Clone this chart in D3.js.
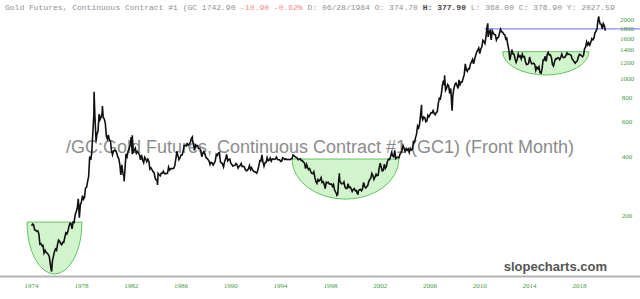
<!DOCTYPE html>
<html>
<head>
<meta charset="utf-8">
<script src="https://cdn.jsdelivr.net/npm/d3@7"></script>
<style>
  html, body { margin: 0; padding: 0; background: #fff; }
  svg { display: block; }
  .hdr { font-family: "Liberation Mono", "DejaVu Sans Mono", monospace; font-size: 8px; fill: #909090; }
  .tick-label { font-family: "Liberation Serif", serif; font-size: 7px; fill: #3f9a3f; }
</style>
</head>
<body>
<svg id="chart" width="640" height="299"></svg>
<script>
// monthly closes, one row per year
const years = [1975, 1976, 1977, 1978, 1979, 1980, 1981, 1982, 1983, 1984, 1985, 1986,
  1987, 1988, 1989, 1990, 1991, 1992, 1993, 1994, 1995, 1996, 1997, 1998, 1999, 2000,
  2001, 2002, 2003, 2004, 2005, 2006, 2007, 2008, 2009, 2010, 2011, 2012, 2013, 2014,
  2015, 2016, 2017, 2018, 2019, 2020, 2021];
const closes = [
  [176, 180, 178, 168, 167, 165, 166, 160, 142, 143, 139, 140],
  [128, 132, 129, 128, 126, 123, 113, 104, 116, 123, 130, 134],
  [132, 142, 149, 147, 143, 141, 145, 145, 154, 162, 160, 165],
  [175, 182, 181, 170, 184, 183, 200, 208, 217, 242, 194, 226],
  [233, 251, 241, 246, 274, 277, 296, 315, 397, 382, 415, 524],
  [653, 637, 494, 518, 535, 653, 614, 631, 666, 629, 619, 589],
  [506, 489, 513, 482, 479, 426, 406, 425, 428, 427, 414, 397],
  [387, 362, 320, 361, 326, 315, 342, 411, 397, 423, 436, 456],
  [499, 408, 414, 429, 438, 413, 422, 414, 405, 382, 405, 382],
  [370, 394, 386, 374, 385, 376, 343, 348, 341, 333, 330, 309],
  [302, 299, 326, 321, 317, 327, 327, 334, 325, 326, 325, 327],
  [351, 339, 344, 345, 345, 346, 357, 385, 423, 402, 383, 391],
  [405, 405, 420, 452, 452, 450, 462, 453, 460, 469, 492, 484],
  [459, 428, 455, 450, 452, 437, 438, 428, 396, 411, 421, 410],
  [394, 389, 384, 378, 362, 371, 369, 360, 368, 377, 408, 402],
  [414, 417, 374, 369, 365, 352, 373, 387, 408, 378, 384, 386],
  [367, 362, 355, 358, 358, 366, 362, 347, 354, 358, 366, 353],
  [354, 352, 341, 336, 338, 344, 357, 341, 349, 339, 334, 333],
  [330, 327, 338, 355, 379, 377, 405, 373, 355, 370, 371, 392],
  [378, 381, 390, 377, 387, 386, 384, 387, 395, 384, 383, 383],
  [375, 377, 391, 389, 384, 387, 383, 384, 384, 383, 387, 387],
  [405, 401, 397, 393, 391, 383, 385, 387, 379, 379, 372, 369],
  [345, 362, 350, 341, 345, 334, 326, 325, 332, 311, 297, 290],
  [303, 298, 301, 310, 293, 296, 288, 273, 294, 292, 294, 288],
  [287, 288, 280, 286, 269, 262, 256, 254, 299, 300, 292, 288],
  [289, 295, 278, 273, 273, 289, 276, 278, 272, 264, 270, 273],
  [266, 267, 257, 265, 269, 270, 266, 273, 293, 280, 275, 279],
  [283, 297, 303, 309, 326, 318, 304, 312, 323, 317, 319, 347],
  [368, 350, 336, 338, 363, 346, 354, 375, 385, 384, 398, 416],
  [400, 396, 427, 388, 393, 395, 391, 408, 415, 428, 452, 438],
  [422, 436, 428, 435, 417, 437, 429, 433, 474, 470, 495, 517],
  [569, 557, 582, 654, 643, 613, 632, 627, 599, 604, 646, 635],
  [651, 665, 663, 682, 660, 650, 666, 672, 742, 789, 783, 834],
  [923, 971, 917, 865, 886, 926, 912, 833, 884, 719, 816, 882],
  [928, 942, 916, 884, 979, 926, 954, 955, 1001, 1040, 1182, 1096],
  [1081, 1117, 1113, 1180, 1207, 1245, 1181, 1246, 1307, 1357, 1386, 1421],
  [1333, 1411, 1439, 1556, 1536, 1500, 1628, 1825, 1620, 1722, 1746, 1566],
  [1740, 1697, 1668, 1664, 1561, 1604, 1615, 1692, 1773, 1720, 1714, 1675],
  [1664, 1578, 1596, 1476, 1392, 1234, 1312, 1396, 1326, 1323, 1250, 1202],
  [1244, 1326, 1284, 1295, 1250, 1321, 1281, 1286, 1210, 1172, 1175, 1184],
  [1279, 1213, 1183, 1184, 1190, 1172, 1095, 1135, 1115, 1142, 1065, 1061],
  [1116, 1236, 1233, 1290, 1215, 1321, 1350, 1309, 1313, 1272, 1174, 1152],
  [1210, 1253, 1249, 1268, 1268, 1242, 1268, 1322, 1280, 1270, 1275, 1303],
  [1343, 1318, 1325, 1315, 1305, 1251, 1233, 1206, 1191, 1214, 1222, 1282],
  [1321, 1316, 1298, 1283, 1305, 1413, 1437, 1529, 1472, 1513, 1472, 1523],
  [1589, 1566, 1596, 1702, 1730, 1781, 1986, 1978, 1888, 1880, 1780, 1895],
  [1850, 1743]
];

// intra-month highs and lows that the monthly closes miss
const spikeDates = ["1976-08-25", "1980-01-21", "1980-03-18", "1980-09-22", "1982-06-21",
  "1983-02-15", "1985-02-25", "1987-12-14", "1999-07-20", "1999-10-05", "2001-04-02",
  "2006-05-12", "2008-03-17", "2008-10-24", "2011-09-06", "2015-12-17", "2020-08-06"];
const spikeValues = [103, 850, 474, 720, 297, 510, 285, 500, 252, 326, 256,
  730, 1033, 681, 1900, 1050, 2060];

// rounded-bottom "cup" bases drawn in green
const cupStart = ["1974-09-01", "1995-12-15", "2012-11-15"];
const cupEnd = ["1979-02-01", "2004-07-15", "2019-10-20"];
const cupTop = [184, 386, 1362];
const cupBottom = [100, 241, 1036];

const resistanceFrom = "2011-06-01";
const resistanceLevel = 1780;

const yTicks = [200, 400, 600, 800, 1000, 1200, 1400, 1600, 1800, 2000];
const xTickYears = [1974, 1978, 1982, 1986, 1990, 1994, 1998, 2002, 2006, 2010, 2014, 2018];

const parse = d3.timeParse("%Y-%m-%d");

const series = [];
years.forEach((yr, i) => {
  closes[i].forEach((v, m) => series.push({ date: new Date(yr, m, 15), value: v }));
});
spikeDates.forEach((d, i) => series.push({ date: parse(d), value: spikeValues[i] }));
series.sort((a, b) => a.date - b.date);

const svg = d3.select("#chart");
const width = 640;

const x = d3.scaleTime()
  .domain([new Date(1974, 0, 1), new Date(2022, 0, 1)])
  .range([18.7, 616.3]);
const y = d3.scaleLog()
  .domain([100, 2000])
  .range([274, 19]);

// cups
const cups = cupStart.map((s, i) => ({
  x0: x(parse(s)), x1: x(parse(cupEnd[i])),
  yTop: y(cupTop[i]), yBot: y(cupBottom[i])
}));
svg.append("g")
  .selectAll("path")
  .data(cups)
  .join("path")
  .attr("d", c => {
    const rx = (c.x1 - c.x0) / 2;
    const ry = c.yBot - c.yTop;
    return `M${c.x0},${c.yTop}A${rx},${ry} 0 0 0 ${c.x1},${c.yTop}Z`;
  })
  .attr("fill", "#c9f2c3")
  .attr("fill-opacity", 0.85)
  .attr("stroke", "#62c462")
  .attr("stroke-width", 1);

// watermark
svg.append("text")
  .attr("x", 320)
  .attr("y", 153)
  .attr("text-anchor", "middle")
  .attr("font-family", "Liberation Sans, Arial, sans-serif")
  .attr("font-size", 18)
  .attr("fill", "#8c8c8c")
  .text("/GC:Gold Futures, Continuous Contract #1 (GC1) (Front Month)");

// resistance line
svg.append("line")
  .attr("x1", x(parse(resistanceFrom)))
  .attr("x2", width)
  .attr("y1", y(resistanceLevel))
  .attr("y2", y(resistanceLevel))
  .attr("stroke", "#6b6bf0")
  .attr("stroke-width", 1);

// price line
const line = d3.line()
  .x(d => x(d.date))
  .y(d => y(d.value));
svg.append("path")
  .datum(series)
  .attr("d", line)
  .attr("fill", "none")
  .attr("stroke", "#111")
  .attr("stroke-width", 1.6);

// right axis labels
const yAxis = d3.axisRight(y)
  .tickValues(yTicks)
  .tickFormat(d3.format("d"))
  .tickSize(0)
  .tickPadding(0);
const yg = svg.append("g")
  .attr("transform", "translate(627,0)")
  .call(yAxis);
yg.select(".domain").remove();
yg.selectAll("text")
  .attr("class", "tick-label")
  .attr("text-anchor", "middle")
  .attr("font-family", null)
  .attr("font-size", null)
  .attr("fill", null);

// bottom rule
svg.append("line")
  .attr("x1", 0).attr("x2", width)
  .attr("y1", 276.5).attr("y2", 276.5)
  .attr("stroke", "#b4b4b4")
  .attr("stroke-width", 2);

// year labels sit at the close of each labelled year
const xAxis = d3.axisBottom(x)
  .tickValues(xTickYears.map(yr => new Date(yr, 11, 31)))
  .tickFormat(d3.timeFormat("%Y"))
  .tickSize(0)
  .tickPadding(0);
const xg = svg.append("g")
  .attr("transform", "translate(0,283)")
  .call(xAxis);
xg.select(".domain").remove();
xg.selectAll("text")
  .attr("class", "tick-label")
  .attr("font-family", null)
  .attr("font-size", null)
  .attr("fill", null);

// brand
svg.append("text")
  .attr("x", 607)
  .attr("y", 271)
  .attr("text-anchor", "end")
  .attr("font-family", "Liberation Sans, Arial, sans-serif")
  .attr("font-weight", "bold")
  .attr("font-size", 13)
  .attr("fill", "#555")
  .text("slopecharts.com");

// header
const hdr = svg.append("text")
  .attr("class", "hdr")
  .attr("x", 5)
  .attr("y", 10)
  .attr("xml:space", "preserve");
const parts = [
  ["Gold Futures, Continuous Contract #1 (GC 1742.90 ", null],
  ["-10.90 -0.62%", "#f08c8c"],
  [" D: 06/28/1984 O: 374.70 ", null],
  ["H:", "bold"],
  [" ", null],
  ["377.90", "bold"],
  [" L: 368.00 C: 376.90 Y: 2027.59", null]
];
parts.forEach(([t, s]) => {
  const ts = hdr.append("tspan").text(t);
  if (s === "bold") ts.attr("font-weight", "bold").attr("fill", "#444");
  else if (s) ts.attr("fill", s);
});
</script>
</body>
</html>
